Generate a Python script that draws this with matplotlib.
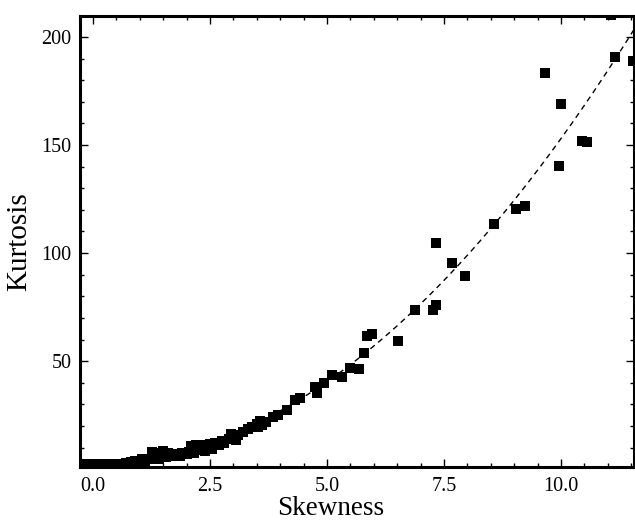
import numpy as np
import matplotlib
matplotlib.use("Agg")
import matplotlib.pyplot as plt
from matplotlib.ticker import MultipleLocator

plt.rcParams['font.family'] = ['Liberation Serif', 'DejaVu Serif']

skew = [-0.22, -0.15, -0.1, 0.0, 0.05, 0.1, 0.2, 0.3, 0.4, 0.5, 0.6, 0.7, 0.8, 0.85,
        0.9, 1.0, 1.05, 1.1, 1.2, 1.25, 1.3, 1.35, 1.4, 1.5, 1.55, 1.6, 1.65, 1.7,
        1.8, 1.85, 1.9, 2.0, 2.05, 2.1, 2.15, 2.2, 2.3, 2.35, 2.4, 2.5, 2.55, 2.6,
        2.7, 2.75, 2.8, 2.9, 2.95, 3.0, 3.05, 3.1, 3.2, 3.3, 3.4, 3.5, 3.53, 3.57,
        3.6, 3.7, 3.85, 3.95, 4.15, 4.32, 4.42, 4.74, 4.79, 4.94, 5.1, 5.32, 5.49,
        5.68, 5.79, 5.86, 5.96, 6.52, 6.88, 7.26, 7.33, 7.33, 7.67, 7.95, 8.57,
        9.04, 9.23, 9.66, 9.96, 10.0, 10.45, 10.56, 11.07, 11.15, 11.54]
kurt = [2.5, 2.4, 2.3, 2.2, 2.6, 2.4, 2.0, 2.3, 2.0, 2.5, 2.6, 3.0, 3.4, 3.0,
        3.8, 4.0, 4.6, 3.8, 4.5, 8.0, 5.0, 7.5, 4.8, 8.2, 5.5, 7.5, 6.0, 6.5,
        7.0, 6.0, 7.5, 6.8, 8.0, 10.5, 7.5, 11.0, 9.0, 11.0, 8.5, 11.5, 9.5, 12.0,
        11.0, 13.0, 12.0, 14.0, 16.5, 15.5, 13.5, 16.0, 17.0, 18.5, 19.5, 21.0, 19.4, 22.5,
        20.5, 22.0, 24.1, 25.0, 27.3, 31.9, 32.9, 38.0, 35.2, 39.8, 43.5, 42.6, 46.8,
        46.3, 53.7, 61.6, 62.5, 59.3, 73.6, 73.6, 75.9, 104.6, 95.4, 89.4, 113.4,
        120.4, 121.8, 183.3, 140.3, 169.0, 151.9, 151.4, 210.0, 190.7, 188.9]

curve_a = 1.5
curve_b = 3.0

fig = plt.figure(figsize=(6.35, 5.22), dpi=100)
ax = fig.add_axes([80/635, 55/522, 554/635, 451/522])

s_line = np.linspace(-0.3, 11.7, 300)
ax.plot(s_line, curve_b + curve_a * s_line**2, color='black', lw=1.0,
        dashes=(4, 3.2), zorder=2)
ax.plot(skew, kurt, linestyle='none', marker='s', ms=6.5, color='black',
        markeredgewidth=0, zorder=3)

ax.set_xlim(-0.28, 11.56)
ax.set_ylim(1.0, 209.7)
ax.xaxis.set_major_locator(MultipleLocator(2.5))
ax.xaxis.set_minor_locator(MultipleLocator(0.5))
ax.yaxis.set_major_locator(MultipleLocator(50))
ax.yaxis.set_minor_locator(MultipleLocator(10))
ax.set_xticks([0, 2.5, 5.0, 7.5, 10.0])
ax.set_xticklabels(['0.0', '2.5', '5.0', '7.5', '10.0'])
ax.set_yticks([50, 100, 150, 200])

ax.tick_params(which='both', direction='in', top=True, right=True, labelsize=14.5,
               width=1.0, colors='black')
ax.tick_params(which='major', length=6)
ax.tick_params(which='minor', length=3)
ax.tick_params(axis='x', which='major', pad=7.5)
ax.tick_params(axis='y', which='major', pad=6)
for sp in ax.spines.values():
    sp.set_linewidth(2.2)

ax.set_xlabel('Skewness', fontsize=19.5)
ax.xaxis.set_label_coords((331 - 80) / 554, (467 - 521) / 451)
ax.xaxis.label.set_va('bottom')
ax.set_ylabel('Kurtosis', fontsize=21)
ax.yaxis.set_label_coords((19 - 80) / 554, 0.5)
ax.yaxis.label.set_va('center')

fig.savefig('out.png', dpi=100)
